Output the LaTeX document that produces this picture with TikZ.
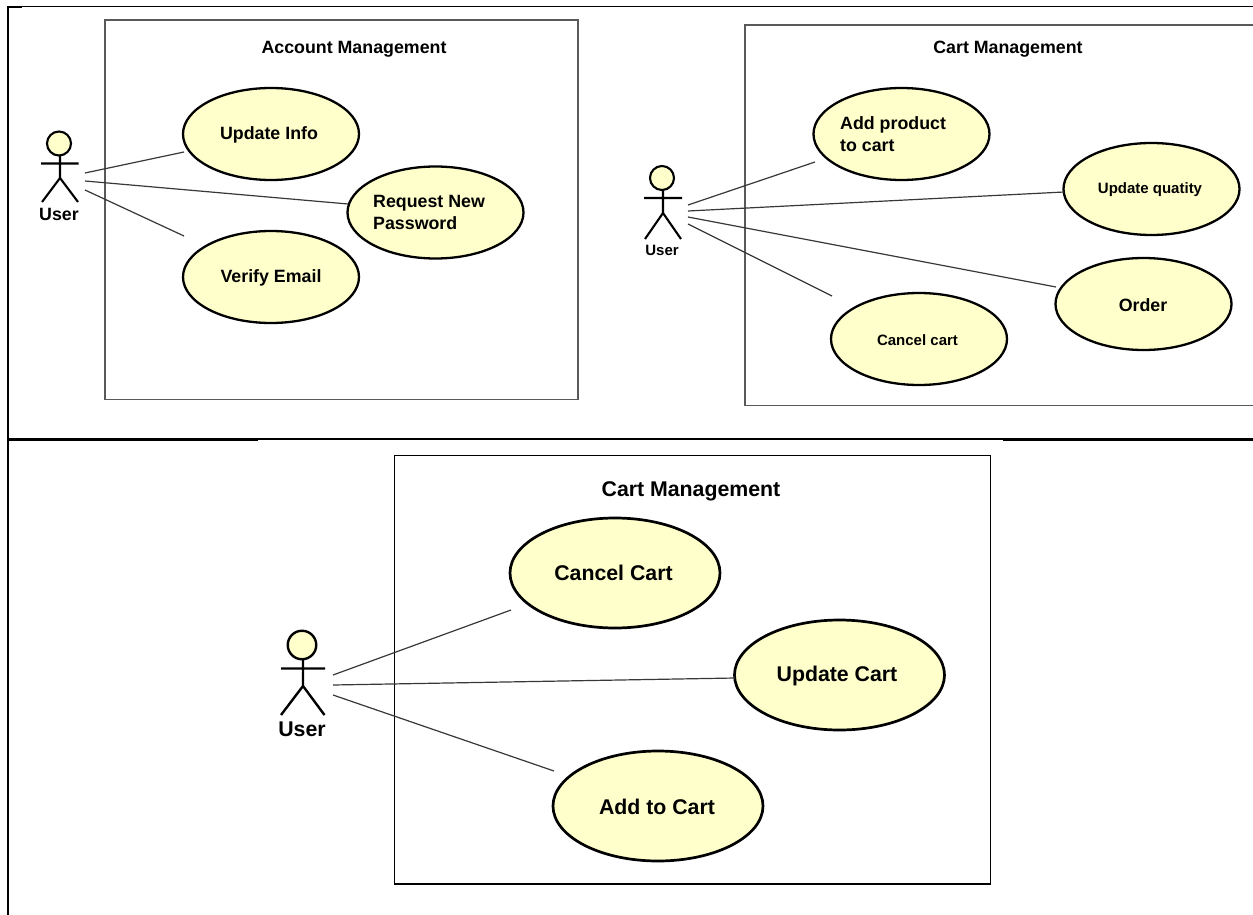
\documentclass[tikz,border=0pt]{standalone}
\usepackage{fontspec}
\setmainfont{Liberation Sans}
\usetikzlibrary{shapes.geometric}
\definecolor{ucfill}{HTML}{FFFFCC}
\newcommand{\fa}{\bfseries\fontsize{17.8}{22}\selectfont}
\newcommand{\fb}{\bfseries\fontsize{15}{18}\selectfont}
\newcommand{\fc}{\bfseries\fontsize{21.3}{25}\selectfont}
\tikzset{
  x=1pt,y=-1pt,
  thinframe/.style={draw=black,line width=1.3pt},
  thickframe/.style={draw=black,line width=2.2pt},
  sysbox/.style={draw=#1,line width=1.2pt},
  sysbox/.default=black!65,
  uc/.style={draw=black,line width=#1,fill=ucfill,ellipse,inner sep=0pt},
  assoc/.style={draw=black!78,line width=1.2pt},
  stick/.style={draw=black,line width=#1,line cap=butt},
  head/.style={circle,draw=black,fill=ucfill,inner sep=0pt},
  lbl/.style={inner sep=0pt,align=center}
}
\begin{document}
\begin{tikzpicture}
\useasboundingbox (0,0) rectangle (1253,915);
\fill[white] (0,0) rectangle (1253,915);
% frame
\draw[thinframe] (8,6.5) -- (1253,6.5);
\draw[thickframe] (8,915) -- (8,7) -- (22,7);
\draw[thinframe] (258,439) -- (1003,439);
\draw[thickframe] (8,439.5) -- (258,439.5);
\draw[thickframe] (1003,439.5) -- (1253,439.5);
% Top left
\draw[sysbox] (105,20) rectangle (578,399.5);
\node[lbl,font=\fa] (t1) at (354,49.5) {Account Management};
\node[uc=2.3pt,minimum width=176pt,minimum height=92pt] (a1) at (271,134) {};
\node[lbl,font=\fa] (a1t) at (269,135) {Update Info};
\node[uc=2.3pt,minimum width=176pt,minimum height=92pt] (a2) at (435.5,212.5) {};
\node[lbl,font=\fa,align=left,anchor=west] (a2t) at (373,212.5) {Request New\\Password};
\node[uc=2.3pt,minimum width=176pt,minimum height=92pt] (a3) at (271,277) {};
\node[lbl,font=\fa] (a3t) at (271,278) {Verify Email};
\coordinate (u1a) at (85,173);
\coordinate (u1b) at (85,181);
\coordinate (u1c) at (85,190);
\coordinate (a1e) at (184,152);
\coordinate (a2e) at (348,204);
\coordinate (a3e) at (184,236);
\draw[assoc] (u1a) -- (a1e);
\draw[assoc] (u1b) -- (a2e);
\draw[assoc] (u1c) -- (a3e);
\node[head,line width=2.1pt,minimum size=24pt] (h1) at (59,143.5) {};
\coordinate (h1w) at (60,178);
\coordinate (h1f) at (60,156);
\coordinate (h1al) at (41,163.5);
\coordinate (h1ar) at (78.5,163.5);
\coordinate (h1ll) at (42,202);
\coordinate (h1lr) at (78,202);
\draw[stick=2.1pt] (h1f) -- (h1w) (h1al) -- (h1ar) (h1ll) -- (h1w) -- (h1lr);
\node[lbl,font=\fa] (ul1) at (59,214.5) {User};
% Top right
\draw[sysbox] (1253,25) -- (745,25) -- (745,405.5) -- (1253,405.5);
\node[lbl,font=\fa] (t2) at (1008,49.5) {Cart Management};
\node[uc=2.3pt,minimum width=176pt,minimum height=92pt] (b1) at (901.5,134) {};
\node[lbl,font=\fa,align=left,anchor=west] (b1t) at (840,134) {Add product\\to cart};
\node[uc=2.3pt,minimum width=176pt,minimum height=92pt] (b2) at (1151.5,189) {};
\node[lbl,font=\fb] (b2t) at (1150,189.5) {Update quatity};
\node[uc=2.3pt,minimum width=176pt,minimum height=92pt] (b3) at (1143.5,304) {};
\node[lbl,font=\fa] (b3t) at (1143,305) {Order};
\node[uc=2.3pt,minimum width=176pt,minimum height=92pt] (b4) at (919,339) {};
\node[lbl,font=\fb] (b4t) at (917.5,340) {Cancel cart};
\coordinate (u2a) at (688,205);
\coordinate (u2b) at (688,211);
\coordinate (u2c) at (688,217);
\coordinate (u2d) at (688,224);
\coordinate (b1e) at (815,162);
\coordinate (b2e) at (1064,192);
\coordinate (b3e) at (1056,287);
\coordinate (b4e) at (832,296);
\draw[assoc] (u2a) -- (b1e);
\draw[assoc] (u2b) -- (b2e);
\draw[assoc] (u2c) -- (b3e);
\draw[assoc] (u2d) -- (b4e);
\node[head,line width=2.1pt,minimum size=24pt] (h2) at (662,178) {};
\coordinate (h2w) at (663,213);
\coordinate (h2f) at (663,190);
\coordinate (h2al) at (644,198);
\coordinate (h2ar) at (682,198);
\coordinate (h2ll) at (645,239);
\coordinate (h2lr) at (681,239);
\draw[stick=2.1pt] (h2f) -- (h2w) (h2al) -- (h2ar) (h2ll) -- (h2w) -- (h2lr);
\node[lbl,font=\fb] (ul2) at (662,250) {User};
% Bottom
\draw[sysbox=black] (394.5,455.5) rectangle (990.5,884);
\node[lbl,font=\fc] (t3) at (691,491.5) {Cart Management};
\node[uc=2.7pt,minimum width=210pt,minimum height=110pt] (c1) at (615,573) {};
\node[lbl,font=\fc] (c1t) at (613.5,573) {Cancel Cart};
\node[uc=2.7pt,minimum width=210pt,minimum height=110pt] (c2) at (839.5,675) {};
\node[lbl,font=\fc] (c2t) at (837,676) {Update Cart};
\node[uc=2.7pt,minimum width=210pt,minimum height=110pt] (c3) at (658,806) {};
\node[lbl,font=\fc] (c3t) at (657,807) {Add to Cart};
\coordinate (u3a) at (333,675);
\coordinate (u3b) at (333,685);
\coordinate (u3c) at (333,695);
\coordinate (c1e) at (511,610);
\coordinate (c2e) at (735,678);
\coordinate (c3e) at (554,771);
\draw[assoc] (u3a) -- (c1e);
\draw[assoc] (u3b) -- (c2e);
\draw[assoc] (u3c) -- (c3e);
\node[head,line width=2.4pt,minimum size=28.5pt] (h3) at (302,645) {};
\coordinate (h3w) at (303,686);
\coordinate (h3f) at (303,659);
\coordinate (h3al) at (281,668.5);
\coordinate (h3ar) at (325,668.5);
\coordinate (h3ll) at (281,715);
\coordinate (h3lr) at (324.5,715);
\draw[stick=2.4pt] (h3f) -- (h3w) (h3al) -- (h3ar) (h3ll) -- (h3w) -- (h3lr);
\node[lbl,font=\fc] (ul3) at (302,729.5) {User};
\end{tikzpicture}
\end{document}
